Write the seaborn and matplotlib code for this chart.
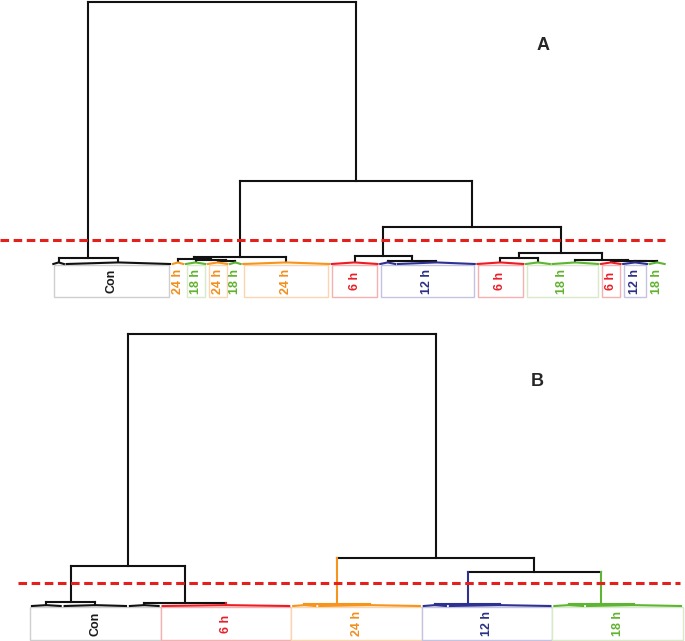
import numpy as np
import pandas as pd
import matplotlib
matplotlib.use("Agg")
import matplotlib.pyplot as plt
from matplotlib.patches import Rectangle
import seaborn as sns

# ---------------- data ----------------
# Panel A: leaf clusters in dendrogram order (label, number of samples)
a_groups = ["Con", "Con", "24 h", "18 h", "24 h", "18 h", "24 h", "6 h",
            "12 h", "12 h", "6 h", "18 h", "18 h", "6 h", "12 h", "18 h"]
a_sizes = [3, 24, 3, 5, 5, 3, 20, 11, 4, 18, 11, 6, 11, 5, 6, 4]
# linkage (scipy style ids: leaves 0..15, new clusters from 16)
a_left = [4, 3, 2, 8, 14, 13, 0, 18, 7, 10, 12, 25, 24, 23, 22]
a_right = [5, 16, 17, 9, 15, 20, 1, 6, 19, 11, 21, 26, 27, 28, 29]
a_height = [0.25, 0.38, 0.50, 0.30, 0.24, 0.32, 0.57, 0.67, 0.76, 0.57,
            0.42, 1.05, 3.5, 7.9, 25.0]
a_cut = 2.29

# Panel B
b_groups = ["Con", "Con", "Con", "6 h", "24 h", "24 h", "12 h", "12 h",
            "18 h", "18 h"]
b_sizes = [5, 10, 5, 20, 4, 16, 4, 16, 5, 15]
b_left = [0, 2, 10, 4, 6, 8, 14, 13, 12]
b_right = [1, 3, 11, 5, 7, 9, 15, 16, 17]
b_height = [0.37, 0.28, 3.7, 0.14, 0.14, 0.14, 3.1, 4.4, 25.0]
b_cut = 2.11

# ---------------- styles ----------------
LINE_COL = {"Con": "#111111", "6 h": "#ed1c24", "12 h": "#2e3192",
            "18 h": "#5db533", "24 h": "#f7941d"}
TEXT_COL = {"Con": "#1a1a1a", "6 h": "#e8202a", "12 h": "#2b3087",
            "18 h": "#62b22f", "24 h": "#f28e1c"}
BOX_COL = {"Con": "#cfcfcf", "6 h": "#f5b0b0", "12 h": "#c4c4e2",
           "18 h": "#d8eac8", "24 h": "#fad6b0"}

sns.set_theme(style="white")
plt.rcParams["font.family"] = ["Liberation Sans", "DejaVu Sans"]

W, H = 685, 641
fig = plt.figure(figsize=(W / 100, H / 100), dpi=100)


def build(groups, sizes, left, right, heights, glyph, colour_legs):
    def colour(mem):
        if colour_legs and len(mem) == 1:
            return LINE_COL[next(iter(mem))]
        return "#111111"

    n = len(sizes)
    starts = np.concatenate([[0], np.cumsum(sizes)[:-1]]).astype(float)
    xs = list(starts + np.array(sizes) / 2.0)
    hs = [glyph] * n
    members = [{g} for g in groups]
    rows = []
    seg = 0
    for i in range(n):
        pts = [(starts[i] + 0.3, 0.0), (xs[i], glyph),
               (starts[i] + sizes[i] - 0.3, 0.0)]
        for k, (x, y) in enumerate(pts):
            rows.append((seg, k, x, y, LINE_COL[groups[i]]))
        seg += 1
    for l, r, h in zip(left, right, heights):
        xl, xr = xs[l], xs[r]
        mem = members[l] | members[r]
        parts = [([(xl, hs[l]), (xl, h)], colour(members[l])),
                 ([(xl, h), (xr, h)], colour(mem)),
                 ([(xr, h), (xr, hs[r])], colour(members[r]))]
        for pts, c in parts:
            for k, (x, y) in enumerate(pts):
                rows.append((seg, k, x, y, c))
            seg += 1
        xs.append((xl + xr) / 2.0)
        hs.append(h)
        members.append(mem)
    return pd.DataFrame(rows, columns=["seg", "k", "x", "y", "color"]), starts


def panel(ax, groups, sizes, left, right, heights, cut, glyph, colour_legs,
          px_left, px_width, px_base, px_root, ax_px_h, box_px, inset,
          cut_span):
    df, starts = build(groups, sizes, left, right, heights, glyph, colour_legs)
    total = float(sum(sizes))
    u = px_width / total
    ax.set_xlim(-px_left / u, (W - px_left) / u)
    scale = (px_base - px_root) / max(heights)
    ax.set_ylim((px_base - ax_px_h) / scale, px_base / scale)
    pal = {c: c for c in df["color"].unique()}
    sns.lineplot(data=df, x="x", y="y", units="seg", estimator=None,
                 sort=False, hue="color", palette=pal, legend=False,
                 linewidth=1.5, ax=ax, solid_capstyle="projecting")
    ax.axhline(cut, xmin=cut_span[0], xmax=cut_span[1], color="#e3201b",
               lw=2.2, dashes=(2.8, 1.5), zorder=5)
    # label boxes for runs of identical labels
    y0 = -(box_px[1]) / scale
    y1 = -(box_px[0]) / scale
    i = 0
    while i < len(groups):
        j = i
        while j + 1 < len(groups) and groups[j + 1] == groups[i]:
            j += 1
        s = starts[i]
        e = starts[j] + sizes[j]
        g = groups[i]
        if e - s >= 5:
            ax.add_patch(Rectangle((s + inset, y0), e - s - 2 * inset, y1 - y0,
                                   facecolor="white", edgecolor=BOX_COL[g],
                                   lw=1.0, zorder=1))
        ax.text((s + e) / 2.0, (y0 + y1) / 2.0, g, rotation=90, ha="center",
                va="center", fontsize=9, fontweight="bold",
                color=TEXT_COL[g], zorder=3)
        i = j + 1
    ax.set_axis_off()


axA = fig.add_axes([0, 1 - 300 / H, 1, 300 / H])
panel(axA, a_groups, a_sizes, a_left, a_right, a_height, a_cut, 0.15, False,
      px_left=52, px_width=614, px_base=264, px_root=2, ax_px_h=300,
      box_px=(1, 33), inset=0.45, cut_span=(0.0, 665 / W))

axB = fig.add_axes([0, 0, 1, 341 / H])
panel(axB, b_groups, b_sizes, b_left, b_right, b_height, b_cut, 0.08, True,
      px_left=30, px_width=653, px_base=306, px_root=34, ax_px_h=341,
      box_px=(1, 34), inset=0.0, cut_span=(18 / W, 680 / W))

fig.text(543 / W, 1 - 45 / H, "A", fontsize=13, fontweight="bold",
         ha="center", va="center")
fig.text(537 / W, 1 - 381 / H, "B", fontsize=13, fontweight="bold",
         ha="center", va="center")

fig.savefig("out.png", dpi=100, facecolor="white")
